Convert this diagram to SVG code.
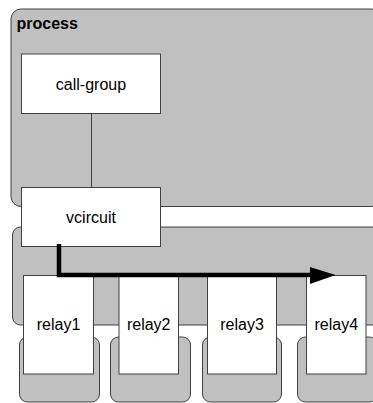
<svg xmlns="http://www.w3.org/2000/svg" width="373" height="403" viewBox="0 0 373 403">
<defs>
<style>
.cont{fill:#c0c0c0;stroke:#404040;stroke-width:1}
.box{fill:#ffffff;stroke:#404040;stroke-width:1}
.lbl{font-family:"Liberation Sans",Arial,sans-serif;font-size:16px;fill:#000;text-anchor:middle}
.title{font-family:"Liberation Sans",Arial,sans-serif;font-size:16px;font-weight:bold;fill:#000}
</style>
<marker id="ah" markerWidth="6" markerHeight="4" refX="0" refY="2" orient="auto" markerUnits="strokeWidth">
<path d="M0,0 L6,2 L0,4 Z" fill="#000"/>
</marker>
</defs>
<rect width="373" height="403" fill="#ffffff"/>
<g id="process">
<rect class="cont" x="11" y="9" width="370" height="197.5" rx="10" ry="10"/>
<text class="title" x="16.5" y="28.5">process</text>
</g>
<g id="relay-group">
<rect class="cont" x="12.5" y="227" width="370" height="98" rx="8" ry="8"/>
</g>
<g id="relay1-holder"><rect class="cont" x="19.5" y="337" width="80" height="65" rx="8" ry="8"/></g>
<g id="relay2-holder"><rect class="cont" x="110.5" y="337" width="80" height="65" rx="8" ry="8"/></g>
<g id="relay3-holder"><rect class="cont" x="202.5" y="337" width="79" height="65" rx="8" ry="8"/></g>
<g id="relay4-holder"><rect class="cont" x="297.5" y="337" width="80" height="65" rx="8" ry="8"/></g>
<g id="connectors">
<line x1="91.5" y1="113.5" x2="91.5" y2="187.5" stroke="#404040" stroke-width="1"/>
</g>
<g id="call-group">
<rect class="box" x="21.5" y="54" width="139" height="59.5"/>
<text class="lbl" x="91" y="89.5">call-group</text>
</g>
<g id="vcircuit">
<rect class="box" x="21.5" y="187.5" width="139" height="59"/>
<text class="lbl" x="91" y="222.5">vcircuit</text>
</g>
<g id="relay1">
<rect class="box" x="23.5" y="275.5" width="70" height="98.5"/>
<text class="lbl" x="58.5" y="330">relay1</text>
</g>
<g id="relay2">
<rect class="box" x="119" y="275.5" width="59.5" height="98.5"/>
<text class="lbl" x="148.7" y="330">relay2</text>
</g>
<g id="relay3">
<rect class="box" x="207.5" y="275.5" width="69" height="98.5"/>
<text class="lbl" x="242" y="330">relay3</text>
</g>
<g id="relay4">
<rect class="box" x="306.5" y="275.5" width="59.5" height="98.5"/>
<text class="lbl" x="336.3" y="330">relay4</text>
</g>
<g id="flow">
<path d="M59,244 V275 H313" fill="none" stroke="#000" stroke-width="4.5" stroke-linejoin="miter"/>
<path d="M310,267 L335.5,275 L310,284 Z" fill="#000"/>
</g>
</svg>
